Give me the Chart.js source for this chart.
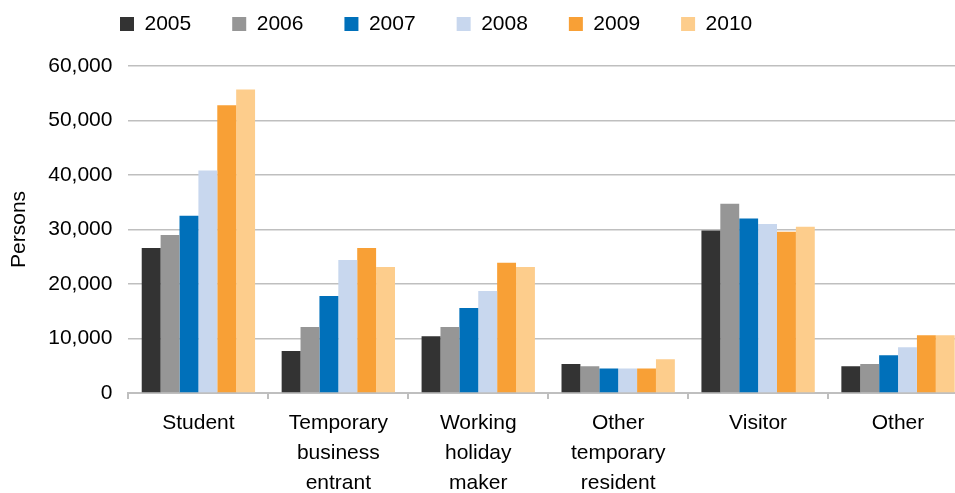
<!DOCTYPE html>
<html>
<head>
<meta charset="utf-8">
<script src="https://cdn.jsdelivr.net/npm/chart.js@4"></script>
<style>
    html, body { margin: 0; padding: 0; background: #fff; overflow: hidden; }
    #wrap { position: relative; width: 968px; height: 507px; }
</style>
</head>
<body>
<div id="wrap"><canvas id="visaChart"></canvas></div>
<script>
// categories (multi-line labels as arrays)
const categories = [
    ['Student'],
    ['Temporary', 'business', 'entrant'],
    ['Working', 'holiday', 'maker'],
    ['Other', 'temporary', 'resident'],
    ['Visitor'],
    ['Other']
];
const years = ['2005', '2006', '2007', '2008', '2009', '2010'];

// persons
const v2005 = [26600, 7700, 10400, 5300, 29800, 4900];
const v2006 = [29000, 12100, 12100, 4900, 34700, 5300];
const v2007 = [32500, 17800, 15600, 4500, 32000, 6900];
const v2008 = [40800, 24400, 18700, 4500, 31000, 8400];
const v2009 = [52800, 26600, 23900, 4500, 29600, 10600];
const v2010 = [55700, 23100, 23100, 6200, 30500, 10600];

const yTicks = [0, 10000, 20000, 30000, 40000, 50000, 60000];

const colors = ['#333333', '#969696', '#0070BA', '#C8D7EE', '#F8A036', '#FDCD8C'];
const series = [v2005, v2006, v2007, v2008, v2009, v2010];

const gridGray = '#BFBFBF';
const font = { family: '"Liberation Sans", Arial, sans-serif', size: 21 };

// move the legend to where the original has it
const legendPlacer = {
    id: 'legendPlacer',
    beforeDraw(chart) {
        const lg = chart.legend;
        const w = lg.width, h = lg.height;
        lg.left = 79;
        lg.right = lg.left + w;
        lg.top = -27.5;
        lg.bottom = lg.top + h;
    }
};

new Chart(document.getElementById('visaChart').getContext('2d'), {
    type: 'bar',
    data: {
        labels: categories,
        datasets: years.map(function(y, i) {
            return {
                label: y,
                data: series[i],
                backgroundColor: colors[i],
                borderWidth: 0
            };
        })
    },
    options: {
        responsive: true,
        maintainAspectRatio: false,
        animation: false,
        datasets: {
            bar: { barPercentage: 1, categoryPercentage: 0.81 }
        },
        layout: { padding: { top: -6, left: 0, right: 0, bottom: 0 } },
        plugins: {
            legend: {
                position: 'top',
                align: 'start',
                labels: {
                    boxWidth: 14,
                    boxHeight: 14,
                    padding: 41,
                    color: '#000',
                    font: font
                }
            },
            tooltip: { enabled: false }
        },
        scales: {
            x: {
                grid: {
                    offset: true,
                    drawOnChartArea: false,
                    drawTicks: true,
                    tickLength: 6,
                    color: gridGray,
                    lineWidth: 2
                },
                border: { display: true, color: gridGray, width: 2 },
                ticks: {
                    color: '#000',
                    font: { family: font.family, size: 21, lineHeight: 1.43 },
                    padding: 9,
                    autoSkip: false,
                    maxRotation: 0
                }
            },
            y: {
                min: 0,
                max: 60000,
                afterBuildTicks: function(axis) {
                    axis.ticks = yTicks.map(function(v) { return { value: v }; });
                },
                grid: { color: gridGray, lineWidth: 1.5, drawTicks: false },
                border: { display: false },
                ticks: {
                    color: '#000',
                    font: font,
                    padding: 16,
                    callback: function(v) { return v.toLocaleString('en-US'); }
                },
                title: {
                    display: true,
                    text: 'Persons',
                    color: '#000',
                    font: font,
                    padding: { top: 7, bottom: 0 }
                }
            }
        }
    },
    plugins: [legendPlacer]
});
</script>
</body>
</html>
